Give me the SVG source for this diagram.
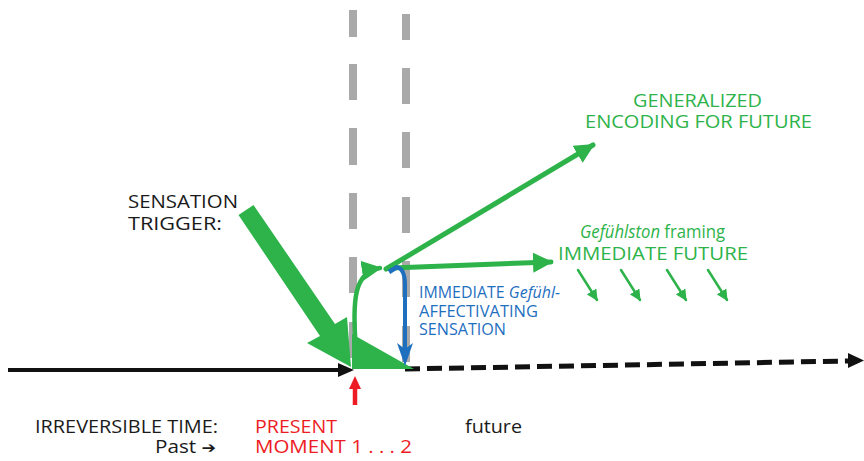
<svg xmlns="http://www.w3.org/2000/svg" width="864" height="461" viewBox="0 0 864 461">
<style>
  text { font-family: "Open Sans", "Liberation Sans", sans-serif; font-size: 18px; }
  .g { fill: #2db34a; }
  .b { fill: #1f6fbf; font-size: 15.5px; }
  .k { fill: #1a1a1a; }
  .r { fill: #ed1c24; }
  .it { font-style: italic; }
  .gray { stroke: #a9a9a9; stroke-width: 8; fill: none; }
  .gl { stroke: #2db34a; fill: none; stroke-linecap: round; }
</style>
<defs>
  <marker id="gh" viewBox="0 0 10 10" refX="9" refY="5" markerWidth="4" markerHeight="4" markerUnits="strokeWidth" orient="auto">
    <path d="M0,0 L10,5 L0,10 Z" fill="#2db34a"/>
  </marker>
  <marker id="gs" viewBox="0 0 10 10" refX="9" refY="5" markerWidth="4.5" markerHeight="4.5" markerUnits="strokeWidth" orient="auto">
    <path d="M0,0 L10,5 L0,10 Z" fill="#2db34a"/>
  </marker>
</defs>

<g id="guides">
  <path class="gray" d="M353,10 V37 M353,64 V100 M353,128 V165 M353,193 V229 M353,257 V293 M353,322 V358"/>
  <path class="gray" d="M406,14 V40 M406,68 V104 M406,132 V168 M406,197 V233 M406,261 V297 M406,326 V362"/>
</g>

<g id="timeline">
  <line x1="8" y1="370" x2="342" y2="370" stroke="#111" stroke-width="4"/>
  <path d="M338,363 L354,370 L338,377 Z" fill="#111"/>
  <line x1="405" y1="369" x2="848" y2="361" stroke="#111" stroke-width="5" stroke-dasharray="15 7"/>
  <path d="M848,353 L864,360.5 L848,368 Z" fill="#111"/>
</g>

<g id="connectors">
  <path d="M253.5,205 L335,324 L347,317 L351,367 L307,343 L320,336 L238.5,215 Z" fill="#2db34a"/>
  <path d="M352,334 L414,369 L352,369 Z" fill="#2db34a"/>
  <path class="gl" d="M356,350 C352,300 354,272 380,268" stroke-width="4.5" marker-end="url(#gs)"/>
  <path class="gl" d="M386,269 L593,145" stroke-width="5" marker-end="url(#gh)"/>
  <path class="gl" d="M392,268 L551,262" stroke-width="5" marker-end="url(#gh)"/>
  <path class="gl" d="M578,270 L597,300" stroke-width="2.5" marker-end="url(#gs)"/>
  <path class="gl" d="M621,270 L640,300" stroke-width="2.5" marker-end="url(#gs)"/>
  <path class="gl" d="M667,270 L686,300" stroke-width="2.5" marker-end="url(#gs)"/>
  <path class="gl" d="M708,270 L727,300" stroke-width="2.5" marker-end="url(#gs)"/>
  <path d="M389,272 L397,267" stroke="#1f6fbf" stroke-width="4.5" fill="none"/>
  <path d="M396,267 Q405,268 405,285 L405,350" stroke="#1f6fbf" stroke-width="4" fill="none"/>
  <path d="M397,343 L405,366 L413,343 L405,349 Z" fill="#1f6fbf"/>
  <line x1="355" y1="405" x2="355" y2="386" stroke="#ed1c24" stroke-width="4.5"/>
  <path d="M349,389 L355,376 L361,389 Z" fill="#ed1c24"/>
</g>

<g id="generalized">
  <text class="g" x="633" y="107" textLength="129" lengthAdjust="spacingAndGlyphs">GENERALIZED</text>
  <text class="g" x="585" y="128" textLength="227" lengthAdjust="spacingAndGlyphs">ENCODING FOR FUTURE</text>
</g>
<g id="immediate-future">
  <text class="g" x="580" y="238" textLength="145" lengthAdjust="spacingAndGlyphs"><tspan class="it">Gefühlston</tspan> framing</text>
  <text class="g" x="558" y="260" textLength="190" lengthAdjust="spacingAndGlyphs">IMMEDIATE FUTURE</text>
</g>
<g id="sensation">
  <text class="b" x="419" y="298" textLength="141" lengthAdjust="spacingAndGlyphs">IMMEDIATE <tspan class="it">Gefühl-</tspan></text>
  <text class="b" x="419" y="317" textLength="119" lengthAdjust="spacingAndGlyphs">AFFECTIVATING</text>
  <text class="b" x="419" y="335" textLength="87" lengthAdjust="spacingAndGlyphs">SENSATION</text>
</g>
<g id="trigger">
  <text class="k" x="128" y="208" textLength="110" lengthAdjust="spacingAndGlyphs">SENSATION</text>
  <text class="k" x="128" y="230" textLength="94" lengthAdjust="spacingAndGlyphs">TRIGGER:</text>
</g>
<g id="time-label">
  <text class="k" x="35" y="433" textLength="183" lengthAdjust="spacingAndGlyphs">IRREVERSIBLE TIME:</text>
  <text class="k" x="155" y="453" textLength="61" lengthAdjust="spacingAndGlyphs">Past <tspan font-family="DejaVu Sans, sans-serif" font-size="15">➔</tspan></text>
</g>
<g id="present">
  <text class="r" x="255" y="433" textLength="82" lengthAdjust="spacingAndGlyphs">PRESENT</text>
  <text class="r" x="255" y="453" textLength="157" lengthAdjust="spacingAndGlyphs">MOMENT 1 . . . 2</text>
</g>
<g id="future">
  <text class="k" x="465" y="433" textLength="57" lengthAdjust="spacingAndGlyphs">future</text>
</g>
</svg>
